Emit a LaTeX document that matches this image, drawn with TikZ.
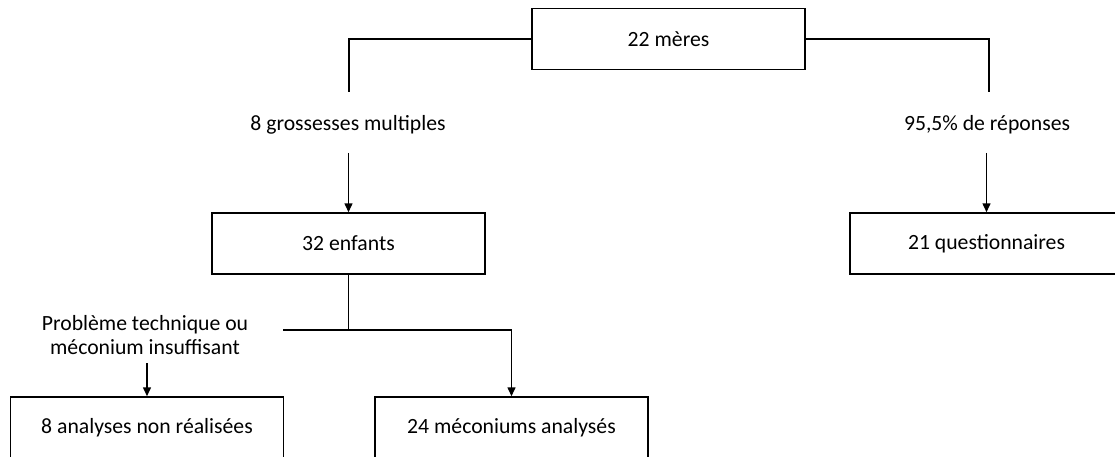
\documentclass[tikz,border=0pt]{standalone}
\usepackage{fontspec}
\setmainfont{Carlito}
\usetikzlibrary{arrows.meta}
\begin{document}
\begin{tikzpicture}[x=1pt,y=-1pt,
  font=\fontsize{21.7}{24.5}\selectfont,
  line width=1.5pt,
  box/.style={draw, minimum width=273pt, minimum height=61pt, inner sep=0pt},
  lbl/.style={inner sep=0pt, align=center},
  arr/.style={-{Triangle[width=8pt,length=9pt]}}]
\useasboundingbox (0,0) rectangle (1115,457);
% boxes
\node[box] (m) at (668.5,39) {22 mères};
\node[box] (e) at (348.5,243.5) {32 enfants};
\node[box] (q) at (986.5,243.5) {21 questionnaires};
\node[box] (n) at (147,427.5) {8 analyses non réalisées};
\node[box] (a) at (511.5,427.5) {24 méconiums analysés};
% labels
\node[lbl] (g) at (348,125) {8 grossesses multiples};
\node[lbl] (r) at (987,125) {95,5\% de réponses};
\node[lbl] (p) at (145,335) {Problème technique ou\\méconium insuffisant};
% helper coordinates
\coordinate (lt) at (349,92);
\coordinate (rt) at (989,92);
\coordinate (ga) at (348.5,153);
\coordinate (ra) at (986.5,153);
\coordinate (jn) at (348.5,330);
\coordinate (hl) at (283,330);
\coordinate (hr) at (511.5,330);
\coordinate (pa) at (147,363);
% connectors
\draw (m.west) -| (lt);
\draw (m.east) -| (rt);
\draw[arr] (ga) -- (e.north);
\draw[arr] (ra) -- (q.north);
\draw (e.south) -- (jn);
\draw (hl) -- (hr);
\draw[arr] (hr) -- (a.north);
\draw[arr] (pa) -- (n.north);
\end{tikzpicture}
\end{document}
